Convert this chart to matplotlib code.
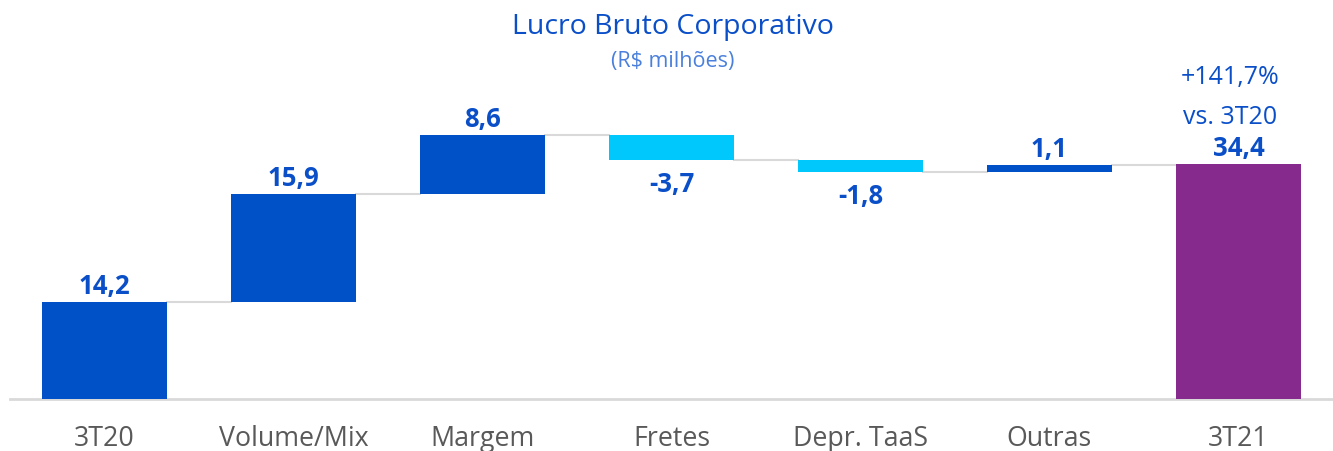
import matplotlib
matplotlib.use("Agg")
import matplotlib.pyplot as plt

# data
categories = ["3T20", "Volume/Mix", "Margem", "Fretes", "Depr. TaaS", "Outras", "3T21"]
values = [14.2, 15.9, 8.6, -3.7, -1.8, 1.1, 34.4]
labels = ["14,2", "15,9", "8,6", "-3,7", "-1,8", "1,1", "34,4"]
kinds = ["total", "delta", "delta", "delta", "delta", "delta", "total"]

BLUE = "#0050c8"
CYAN = "#00c8fc"
PURPLE = "#862a8e"
TXT = "#0a4fc8"

plt.rcParams["font.family"] = ["Open Sans", "DejaVu Sans"]

fig = plt.figure(figsize=(13.33, 4.52), dpi=100)
ax = fig.add_axes([10 / 1333, 52 / 452, 1323 / 1333, 400 / 452])

bottoms, tops = [], []
level = 0
for v, k in zip(values, kinds):
    if k == "total":
        b, t = 0, v
        level = v
    else:
        b, t = level, level + v
        level = level + v
    bottoms.append(min(b, t))
    tops.append(max(b, t))

colors = []
for i, (v, k) in enumerate(zip(values, kinds)):
    if i == len(values) - 1:
        colors.append(PURPLE)
    elif v < 0:
        colors.append(CYAN)
    else:
        colors.append(BLUE)

x = list(range(len(categories)))
heights = [t - b for b, t in zip(bottoms, tops)]
ax.bar(x, heights, bottom=bottoms, width=0.665, color=colors, zorder=3)

# connectors
running = []
level = 0
for v, k in zip(values, kinds):
    level = v if k == "total" else level + v
    running.append(level)
for i in range(len(x) - 1):
    ax.plot([i + 0.33, i + 1 - 0.33], [running[i], running[i]],
            color="#d9d9d9", lw=1.5, zorder=2)

# value labels
for i, (v, lab) in enumerate(zip(values, labels)):
    if v >= 0:
        ax.annotate(lab, (i, tops[i]), xytext=(0, 2), textcoords="offset points",
                    ha="center", va="bottom", fontsize=18.5, fontweight="bold", color=TXT)
    else:
        ax.annotate(lab, (i, bottoms[i]), xytext=(0, -7), textcoords="offset points",
                    ha="center", va="top", fontsize=18.5, fontweight="bold", color=TXT)

ax.annotate("+141,7%\nvs. 3T20", (6, tops[6]), xytext=(-6, 25), textcoords="offset points",
            ha="center", va="bottom", fontsize=18, color=TXT, linespacing=1.8)

ax.set_xlim(-0.5, 6.5)
ax.set_ylim(0, 58.6)
ax.set_xticks(x)
ax.set_xticklabels(categories, fontsize=19.3, color="#595959")
ax.tick_params(axis="x", length=0, pad=18)
ax.set_yticks([])
for s in ["top", "right", "left"]:
    ax.spines[s].set_visible(False)
ax.spines["bottom"].set_color("#d9d9d9")
ax.spines["bottom"].set_linewidth(2)

fig.text(673 / 1333, 1 - 27 / 452, "Lucro Bruto Corporativo", ha="center", va="center",
         fontsize=20.5, color=TXT)
fig.text(673 / 1333, 1 - 61 / 452, "(R$ milhões)", ha="center", va="center",
         fontsize=15.5, color="#4a80dc")

fig.savefig("out.png", dpi=100)
